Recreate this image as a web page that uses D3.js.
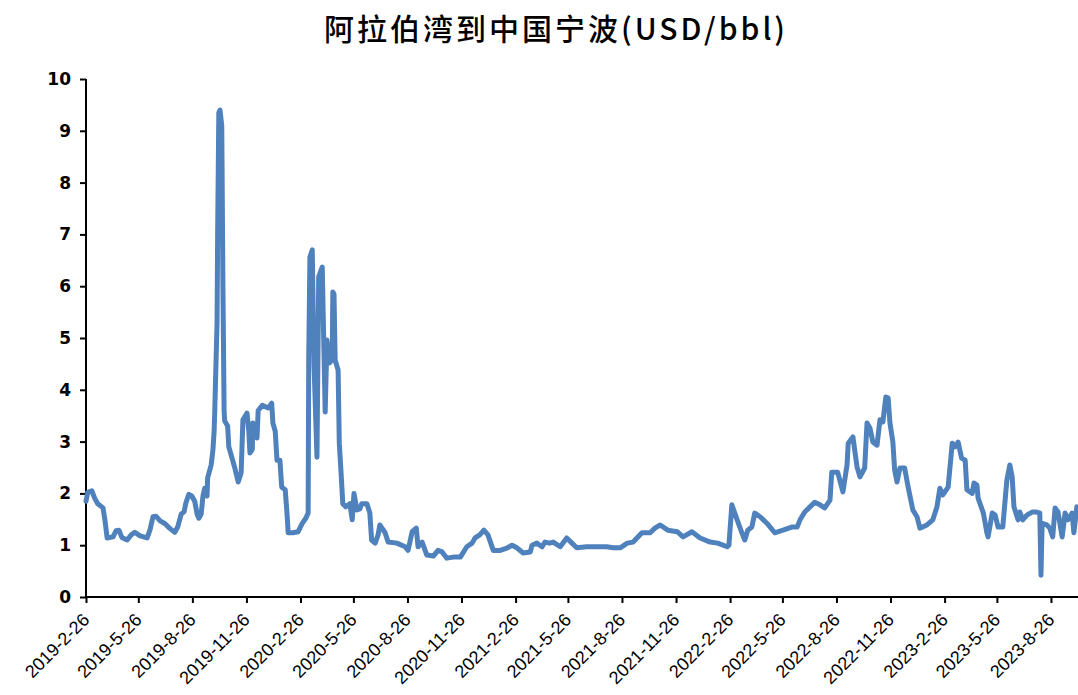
<!DOCTYPE html>
<html>
<head>
<meta charset="utf-8">
<script src="https://cdn.jsdelivr.net/npm/d3@7"></script>
<style>
  body { margin: 0; background: #fff; }
  svg { display: block; }
</style>
</head>
<body>
<svg id="chart" width="1078" height="695"></svg>
<script>
const title = '阿拉伯湾到中国宁波(USD/bbl)';

// dates
const dates = [
  '2019-02-26','2019-03-01','2019-03-08','2019-03-13','2019-03-18','2019-03-27','2019-03-30','2019-04-03',
  '2019-04-13','2019-04-18','2019-04-23','2019-04-28','2019-05-07','2019-05-14','2019-05-20','2019-05-29',
  '2019-06-10','2019-06-15','2019-06-20','2019-06-25','2019-07-02','2019-07-10','2019-07-19','2019-07-27',
  '2019-08-01','2019-08-07','2019-08-12','2019-08-15','2019-08-20','2019-08-25','2019-08-30','2019-09-03',
  '2019-09-06','2019-09-10','2019-09-13','2019-09-16','2019-09-20','2019-09-21','2019-09-27','2019-09-30',
  '2019-10-02','2019-10-03','2019-10-07','2019-10-08','2019-10-10','2019-10-12','2019-10-15','2019-10-17',
  '2019-10-19','2019-10-20','2019-10-25','2019-10-27','2019-11-01','2019-11-06','2019-11-12','2019-11-17',
  '2019-11-20','2019-11-27','2019-11-30','2019-12-02','2019-12-06','2019-12-07','2019-12-11','2019-12-14',
  '2019-12-16','2019-12-23','2020-01-02','2020-01-08','2020-01-10','2020-01-14','2020-01-17','2020-01-22',
  '2020-01-25','2020-01-31','2020-02-03','2020-02-05','2020-02-13','2020-02-22','2020-02-29','2020-03-06',
  '2020-03-10','2020-03-11','2020-03-13','2020-03-17','2020-03-20','2020-03-25','2020-03-28','2020-04-03',
  '2020-04-08','2020-04-11','2020-04-16','2020-04-20','2020-04-21','2020-04-23','2020-04-25','2020-04-30',
  '2020-05-02','2020-05-05','2020-05-08','2020-05-13','2020-05-20','2020-05-24','2020-05-27','2020-06-01',
  '2020-06-06','2020-06-09','2020-06-18','2020-06-23','2020-06-26','2020-07-02','2020-07-07','2020-07-10',
  '2020-07-19','2020-07-24','2020-08-08','2020-08-22','2020-08-27','2020-09-03','2020-09-10','2020-09-13',
  '2020-09-20','2020-09-28','2020-10-09','2020-10-17','2020-10-24','2020-11-01','2020-11-12','2020-11-24',
  '2020-12-05','2020-12-14','2020-12-19','2020-12-27','2021-01-03','2021-01-10','2021-01-19','2021-01-31',
  '2021-02-12','2021-02-20','2021-02-28','2021-03-11','2021-03-23','2021-03-26','2021-04-03','2021-04-12',
  '2021-04-17','2021-04-25','2021-05-01','2021-05-13','2021-05-24','2021-06-02','2021-06-10','2021-06-27',
  '2021-07-31','2021-08-11','2021-08-23','2021-09-04','2021-09-14','2021-09-29','2021-10-13','2021-10-21',
  '2021-10-30','2021-11-12','2021-11-28','2021-12-08','2021-12-23','2022-01-06','2022-01-23','2022-02-05',
  '2022-02-21','2022-02-24','2022-03-01','2022-03-10','2022-03-18','2022-03-23','2022-03-28','2022-04-04',
  '2022-04-09','2022-04-18','2022-04-30','2022-05-13','2022-05-27','2022-06-11','2022-06-20','2022-06-25',
  '2022-07-03','2022-07-12','2022-07-20','2022-07-29','2022-08-06','2022-08-15','2022-08-18','2022-08-28',
  '2022-09-06','2022-09-13','2022-09-15','2022-09-23','2022-09-30','2022-10-05','2022-10-13','2022-10-17',
  '2022-10-22','2022-10-27','2022-11-03','2022-11-08','2022-11-13','2022-11-18','2022-11-22','2022-11-25',
  '2022-11-30','2022-12-03','2022-12-07','2022-12-12','2022-12-20','2022-12-26','2023-01-03','2023-01-10',
  '2023-01-15','2023-01-27','2023-02-06','2023-02-13','2023-02-18','2023-02-23','2023-03-04','2023-03-11',
  '2023-03-16','2023-03-21','2023-03-27','2023-04-02','2023-04-05','2023-04-14','2023-04-17','2023-04-22',
  '2023-04-24','2023-05-03','2023-05-09','2023-05-11','2023-05-18','2023-05-23','2023-05-28','2023-06-05',
  '2023-06-12','2023-06-17','2023-06-21','2023-06-24','2023-07-01','2023-07-04','2023-07-09','2023-07-16',
  '2023-07-25','2023-08-02','2023-08-07','2023-08-09','2023-08-11','2023-08-19','2023-08-24','2023-08-29',
  '2023-09-02','2023-09-07','2023-09-14','2023-09-19','2023-09-24','2023-10-01','2023-10-04','2023-10-09'
];

// USD/bbl
const values = [
  1.85,2.02,2.05,1.9,1.8,1.72,1.5,1.14,
  1.16,1.28,1.29,1.15,1.1,1.2,1.25,1.18,
  1.14,1.3,1.55,1.56,1.47,1.42,1.32,1.25,
  1.35,1.6,1.65,1.82,1.98,1.95,1.85,1.6,
  1.52,1.6,1.95,2.1,1.95,2.3,2.55,2.84,
  3.2,3.55,5.3,7.0,9.35,9.4,9.1,6.0,
  3.6,3.4,3.3,2.9,2.7,2.5,2.22,2.4,
  3.42,3.55,3.2,2.78,2.85,3.36,3.3,3.07,
  3.6,3.7,3.65,3.74,3.36,3.2,2.64,2.64,
  2.12,2.07,1.62,1.24,1.24,1.26,1.42,1.52,
  1.62,4.6,6.56,6.7,4.5,2.7,6.18,6.37,
  3.57,4.96,4.52,4.6,5.89,5.85,4.57,4.38,
  2.97,2.4,1.8,1.74,1.8,1.49,2.0,1.68,
  1.7,1.8,1.8,1.62,1.1,1.04,1.2,1.39,
  1.24,1.06,1.04,0.97,0.9,1.26,1.33,0.97,
  1.06,0.81,0.79,0.9,0.87,0.75,0.77,0.77,
  0.97,1.04,1.14,1.2,1.29,1.2,0.9,0.9,
  0.95,1.0,0.95,0.85,0.87,1.0,1.04,0.97,
  1.06,1.04,1.06,0.97,1.14,1.04,0.95,0.97,
  0.97,0.95,0.95,1.04,1.06,1.24,1.24,1.33,
  1.39,1.29,1.26,1.16,1.26,1.14,1.06,1.04,
  0.97,1.0,1.78,1.49,1.24,1.1,1.29,1.35,
  1.62,1.55,1.42,1.24,1.29,1.35,1.35,1.49,
  1.64,1.74,1.83,1.78,1.72,1.87,2.41,2.41,
  2.03,2.55,2.97,3.09,2.51,2.32,2.49,3.36,
  3.26,2.99,2.93,3.42,3.38,3.86,3.84,3.36,
  2.99,2.45,2.22,2.49,2.49,2.12,1.68,1.55,
  1.33,1.39,1.49,1.74,2.1,1.97,2.12,2.97,
  2.9,2.99,2.68,2.64,2.07,2.0,2.2,2.16,
  1.91,1.62,1.24,1.16,1.62,1.58,1.35,1.35,
  2.26,2.55,2.32,1.74,1.49,1.64,1.49,1.58,
  1.64,1.64,1.62,0.42,1.42,1.39,1.33,1.16,
  1.72,1.64,1.16,1.62,1.49,1.62,1.24,1.74
];

const xTickLabels = ['2019-2-26','2019-5-26','2019-8-26','2019-11-26','2020-2-26','2020-5-26',
  '2020-8-26','2020-11-26','2021-2-26','2021-5-26','2021-8-26','2021-11-26','2022-2-26',
  '2022-5-26','2022-8-26','2022-11-26','2023-2-26','2023-5-26','2023-8-26'];
const yTicks = [0,1,2,3,4,5,6,7,8,9,10];
const xStart = '2019-02-26', xEnd = '2023-10-11';

const svg = d3.select('#chart');
const margin = { top: 79, right: 0, bottom: 98, left: 86 };
const width = +svg.attr('width');
const height = +svg.attr('height');
const innerWidth = width - margin.left - margin.right;
const innerHeight = height - margin.top - margin.bottom;
const parse = d3.timeParse('%Y-%m-%d');
const parseTick = d3.timeParse('%Y-%-m-%-d');

const data = dates.map((d, i) => ({ date: parse(d), value: values[i] }));

const x = d3.scaleTime()
    .domain([parse(xStart), parse(xEnd)])
    .range([0, innerWidth]);
const y = d3.scaleLinear()
    .domain([0, 10])
    .range([innerHeight, 0]);

// title
svg.append('text')
    .attr('x', 556).attr('y', 40)
    .attr('text-anchor', 'middle')
    .style('font-family', '"Noto Sans CJK SC", sans-serif')
    .style('font-size', '30px')
    .style('font-weight', 500)
    .style('letter-spacing', '3px')
    .text(title);

const g = svg.append('g')
    .attr('transform', `translate(${margin.left},${margin.top})`);

// y axis
const yAxis = g.append('g')
    .call(d3.axisLeft(y).tickValues(yTicks).tickSize(6).tickPadding(9).tickFormat(d3.format('d')));
yAxis.select('.domain').attr('stroke-width', 2).attr('d', `M0,${innerHeight}V0`);
yAxis.selectAll('.tick line').attr('stroke-width', 2);
yAxis.selectAll('.tick text')
    .attr('fill', '#000')
    .style('font-family', '"DejaVu Sans", sans-serif')
    .style('font-weight', 'bold')
    .style('font-size', '17px');

// x axis
const xAxis = g.append('g')
    .attr('transform', `translate(0,${innerHeight})`)
    .call(d3.axisBottom(x)
        .tickValues(xTickLabels.map(parseTick))
        .tickSize(6)
        .tickFormat(d3.timeFormat('%Y-%-m-%-d')));
xAxis.select('.domain').attr('stroke-width', 2).attr('d', `M0,0H${innerWidth}`);
xAxis.selectAll('.tick line').attr('stroke-width', 2);
xAxis.selectAll('.tick text')
    .attr('fill', '#000')
    .attr('text-anchor', 'end')
    .attr('dy', 0)
    .attr('x', 0).attr('y', 0)
    .attr('transform', 'translate(4,24) rotate(-45)')
    .style('font-family', '"Liberation Sans", Arial, sans-serif')
    .style('font-size', '18px');

// line
g.append('path')
    .datum(data)
    .attr('fill', 'none')
    .attr('stroke', '#4f81bd')
    .attr('stroke-width', 5)
    .attr('stroke-linejoin', 'round')
    .attr('stroke-linecap', 'round')
    .attr('d', d3.line()
        .x(d => x(d.date))
        .y(d => y(d.value)));
</script>
</body>
</html>
